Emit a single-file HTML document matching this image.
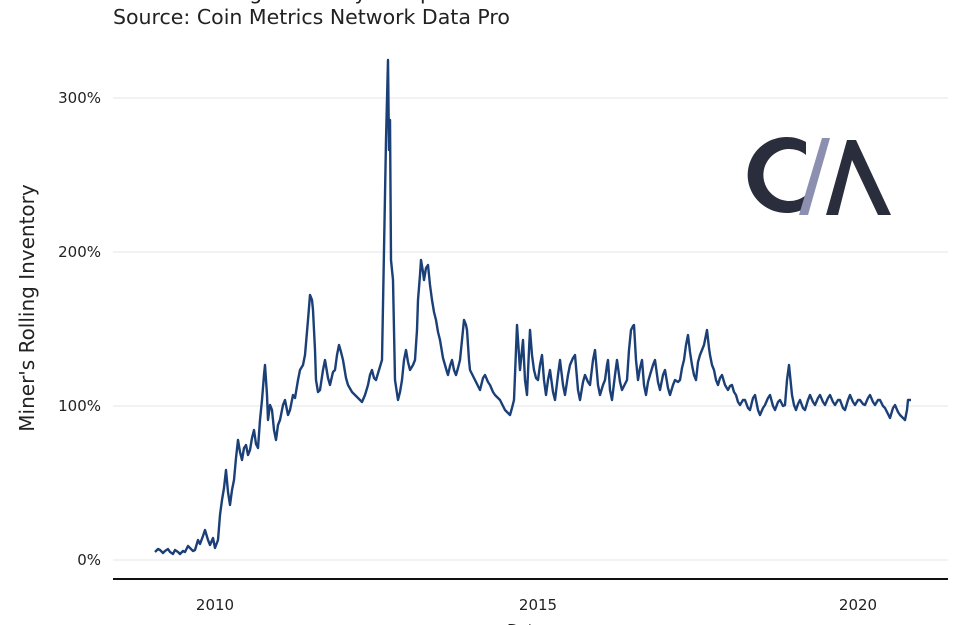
<!DOCTYPE html>
<html><head><meta charset="utf-8"><style>
html,body{margin:0;padding:0;background:#fff;}
svg{display:block;font-family:"DejaVu Sans","Liberation Sans",sans-serif;}
</style></head><body>
<svg width="960" height="625" viewBox="0 0 960 625" xmlns="http://www.w3.org/2000/svg">
<rect width="960" height="625" fill="#fff"/>
<text x="113" y="-1" font-size="20.5" fill="#222">Miner's Rolling Inventory Compared</text>
<text x="113" y="24" font-size="20.5" fill="#222">Source: Coin Metrics Network Data Pro</text>
<g stroke="#e6e6e6" stroke-width="1">
<line x1="113" y1="98" x2="948" y2="98"/>
<line x1="113" y1="252" x2="948" y2="252"/>
<line x1="113" y1="406" x2="948" y2="406"/>
<line x1="113" y1="560" x2="948" y2="560"/>
</g>
<line x1="113" y1="579" x2="948" y2="579" stroke="#111" stroke-width="2"/>
<g font-size="15" fill="#222" text-anchor="end">
<text x="101" y="103">300%</text>
<text x="101" y="257">200%</text>
<text x="101" y="411">100%</text>
<text x="101" y="565">0%</text>
</g>
<g font-size="15" fill="#222" text-anchor="middle">
<text x="215" y="610">2010</text>
<text x="538" y="610">2015</text>
<text x="858" y="610">2020</text>
<text x="525" y="635">Date</text>
</g>
<text transform="translate(34,308) rotate(-90)" font-size="20" fill="#222" text-anchor="middle">Miner's Rolling Inventory</text>
<path d="M 806 142 A 39 38 0 1 0 806 208 L 806 195 A 26 26 0 1 1 806 155 Z" fill="#2a2d3c"/>
<polygon points="822,138 830,138 808,215 799,215" fill="#8c8fb0"/>
<polygon points="826,215 847,140 856,140 891,215 878,215 852,160 838,215" fill="#2a2d3c"/>
<polyline fill="none" stroke="#1b3f77" stroke-width="2.4" stroke-linejoin="round" points="155,552 158,549 160,550 163,553 165,551 168,549 170,552 173,554 175,550 178,552 180,554 183,551 185,552 188,546 190,548 193,551 195,550 198,540 200,544 203,536 205,530 208,540 210,545 213,538 215,548 218,540 220,515 222,500 224,488 226,470 228,492 230,505 232,490 234,480 236,458 238,440 240,452 242,460 244,448 246,445 248,455 250,450 252,438 254,430 256,444 258,448 260,420 262,400 264,375 265,365 267,395 268,420 270,405 272,410 274,430 276,440 278,425 280,420 283,405 285,400 288,415 290,410 293,395 295,398 298,380 300,370 303,365 305,355 308,320 310,295 312,300 313,310 315,350 316,380 318,392 320,390 323,370 325,360 328,378 330,385 333,372 335,370 337,355 339,345 341,352 343,360 346,378 348,385 352,392 355,395 358,398 362,402 365,395 368,385 370,375 372,370 374,378 376,380 379,370 382,360 384,250 386,140 388,60 389,150 390,120 391,260 393,280 395,380 398,400 400,392 402,380 404,360 406,350 408,362 410,370 413,365 415,360 417,330 418,300 420,275 421,260 423,272 424,280 426,268 428,265 430,285 432,300 434,312 436,320 438,332 440,340 443,358 445,365 447,372 448,375 450,366 452,360 454,370 456,375 458,368 460,360 462,340 464,320 466,325 467,330 469,360 470,370 473,376 475,380 478,386 480,390 483,378 485,375 488,382 490,385 493,392 495,395 498,398 500,400 503,406 505,410 508,413 510,415 512,408 514,400 516,350 517,325 519,355 520,370 522,350 523,340 525,380 527,395 529,350 530,330 532,355 534,370 536,378 538,380 540,365 542,355 544,380 546,395 548,380 550,370 553,392 555,400 558,375 560,360 563,385 565,395 568,375 570,365 573,358 575,355 578,390 580,400 583,382 585,375 588,382 590,385 593,360 595,350 598,385 600,395 603,385 605,380 607,365 608,360 610,390 612,400 615,375 617,360 620,382 622,390 625,384 627,380 629,350 631,330 633,326 634,325 636,360 638,380 640,368 642,360 644,385 646,395 648,382 650,375 653,365 655,360 658,382 660,390 663,375 665,370 668,388 670,395 673,385 675,380 678,382 680,380 682,368 684,360 686,345 688,335 690,352 692,365 694,375 696,380 698,362 700,355 702,350 704,345 706,335 707,330 709,348 710,355 712,365 714,370 716,380 718,385 720,378 722,375 725,385 728,390 730,386 732,385 734,392 736,395 738,402 740,405 743,400 745,400 748,408 750,410 753,398 755,395 758,410 760,415 763,408 765,405 768,398 770,395 773,406 775,410 778,402 780,400 783,406 785,405 787,380 789,365 791,385 792,395 794,405 796,410 798,404 800,400 803,408 805,410 808,400 810,395 813,402 815,405 818,398 820,395 823,402 825,405 828,398 830,395 833,402 835,405 838,400 840,400 843,408 845,410 848,400 850,395 853,402 855,405 858,400 860,400 863,404 865,405 868,398 870,395 873,402 875,405 878,400 880,400 883,406 885,408 888,414 890,418 893,408 895,405 898,412 900,415 903,418 905,420 907,410 908,400 911,400"/>
</svg>
</body></html>
